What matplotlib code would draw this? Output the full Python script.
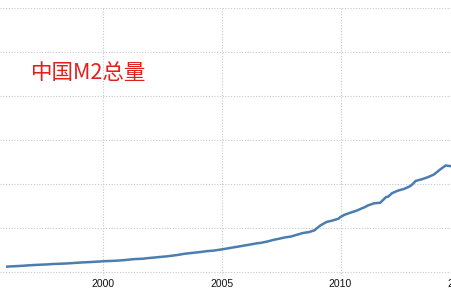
import matplotlib
matplotlib.use("Agg")
import matplotlib.pyplot as plt
import numpy as np

# China M2 money supply (trillion CNY)
dates = ["1996-01", "1996-03", "1996-06", "1996-09", "1996-12",
         "1997-03", "1997-06", "1997-09", "1997-12",
         "1998-03", "1998-06", "1998-09", "1998-12",
         "1999-03", "1999-06", "1999-09", "1999-12",
         "2000-03", "2000-06", "2000-09", "2000-12",
         "2001-03", "2001-06", "2001-09", "2001-12",
         "2002-03", "2002-06", "2002-09", "2002-12",
         "2003-03", "2003-06", "2003-09", "2003-12",
         "2004-03", "2004-06", "2004-09", "2004-12",
         "2005-03", "2005-06", "2005-09", "2005-12",
         "2006-03", "2006-06", "2006-09", "2006-12",
         "2007-03", "2007-06", "2007-09", "2007-12",
         "2008-03", "2008-06", "2008-09", "2008-12",
         "2009-01", "2009-03", "2009-06", "2009-09", "2009-12",
         "2010-01", "2010-03", "2010-06", "2010-09", "2010-12",
         "2011-01", "2011-03", "2011-06", "2011-09", "2011-12",
         "2012-01", "2012-03", "2012-06", "2012-09", "2012-12",
         "2013-01", "2013-03", "2013-06", "2013-09", "2013-12",
         "2014-01", "2014-03", "2014-06", "2014-09"]
m2 = [6.1, 6.4, 6.7, 7.1, 7.6,
      8.0, 8.3, 8.6, 9.1,
      9.3, 9.6, 10.0, 10.45,
      10.9, 11.2, 11.6, 12.0,
      12.4, 12.6, 13.0, 13.5,
      14.2, 14.8, 15.0, 15.8,
      16.4, 17.1, 17.7, 18.5,
      19.4, 20.6, 21.4, 22.1,
      22.9, 23.8, 24.3, 25.3,
      26.4, 27.6, 28.7, 29.9,
      31.0, 32.3, 33.2, 34.6,
      36.4, 37.8, 39.3, 40.3,
      42.3, 44.3, 45.3, 47.5,
      49.6, 53.1, 56.9, 58.5, 60.6,
      62.6, 65.0, 67.4, 69.6, 72.6,
      73.4, 75.8, 78.1, 78.7, 85.2,
      85.6, 89.6, 92.5, 94.4, 97.4,
      99.2, 103.6, 105.4, 107.7, 110.7,
      112.4, 116.1, 121.0, 120.2]

xticks = [2000, 2005, 2010, 2015]
yticks = [0, 50, 100, 150, 200, 250, 300]
title = "中国M2总量"

x = np.array([int(d[:4]) + (int(d[5:]) - 1) / 12.0 for d in dates])
y = np.array(m2)

fig = plt.figure(figsize=(4.52, 3.01), dpi=100)
W, H = 452, 301
pxy = 23.8  # px per year
x_left = 1995.693
x_right = 2015.3
ax_w = (x_right - x_left) * pxy
ax = fig.add_axes([0, (H - 276) / H, ax_w / W, (276 - 7.5) / H])
ax.set_xlim(x_left, x_right)
ax.set_ylim(-4.55, 300.6)

ax.plot(x, y, color="#4a7eb0", lw=1.8, solid_joinstyle="round")

ax.set_xticks(xticks)
ax.set_xticklabels([str(t) for t in xticks], fontsize=7.5, family="Liberation Sans", color="#111111")
ax.set_yticks(yticks)
ax.set_yticklabels([])
ax.tick_params(length=0, pad=2)
ax.grid(True, color="#c8c8c8", linestyle=(0, (1, 1.5)), linewidth=0.8)
for s in ax.spines.values():
    s.set_visible(False)

fig.text(31 / W, 1 - 73 / H, title, color="#e0201c", fontsize=15.5,
         family=["Noto Sans CJK SC", "DejaVu Sans"], va="center", ha="left")

fig.savefig("out.png", dpi=100)
